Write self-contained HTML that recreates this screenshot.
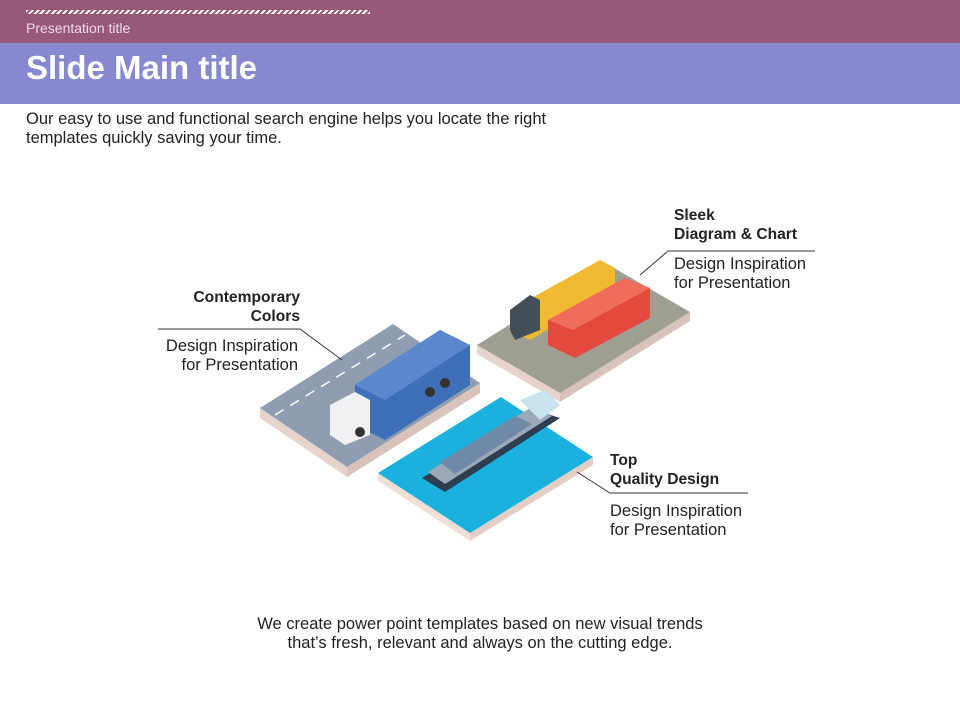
<!DOCTYPE html>
<html><head><meta charset="utf-8"><style>
body{margin:0;width:960px;height:720px;position:relative;background:#fff;font-family:"Liberation Sans",sans-serif;overflow:hidden}
.t{position:absolute;color:#222;font-size:16.5px;line-height:19px;white-space:nowrap}
.b{font-weight:bold;font-size:15.6px}
</style></head><body>
<div style="position:absolute;left:0;top:0;width:960px;height:43px;background:#985877"></div>
<div style="position:absolute;left:26px;top:10px;width:344px;height:4px;background:repeating-linear-gradient(135deg,#fff 0 2px,transparent 2px 4px)"></div>
<div style="position:absolute;left:26px;top:20px;color:#eedbe5;font-size:14px">Presentation title</div>
<div style="position:absolute;left:0;top:43px;width:960px;height:61px;background:#8689d0"></div>
<div style="position:absolute;left:26px;top:49px;color:#fff;font-size:33px;font-weight:bold">Slide Main title</div>
<div class="t" style="left:26px;top:110px">Our easy to use and functional search engine helps you locate the right<br>templates quickly saving your time.</div>

<svg width="960" height="720" style="position:absolute;left:0;top:0">
<!-- road tile -->
<polygon points="260,408 347,467 347,477 260,418" fill="#e6d4cc"/>
<polygon points="347,467 480,383 480,393 347,477" fill="#d8c2ba"/>
<polygon points="260,408 393,324 480,383 347,467" fill="#8f9db3"/>
<line x1="275" y1="415" x2="405" y2="335" stroke="#fff" stroke-dasharray="10,8" stroke-width="1.5"/>
<polygon points="330,420 355,436 470,365 445,349" fill="#a9b3c3"/>
<polygon points="355,385 440,330 470,345 470,385 385,440 355,425" fill="#3f6fb8"/>
<polygon points="355,385 440,330 470,345 385,400" fill="#5b88cc"/>
<polygon points="330,405 355,392 370,400 370,435 345,445 330,435" fill="#eef0f2"/>
<circle cx="360" cy="432" r="5" fill="#333"/><circle cx="430" cy="392" r="5" fill="#333"/><circle cx="445" cy="383" r="5" fill="#333"/>
<!-- train tile -->
<polygon points="477,345 560,393 560,402 477,354" fill="#e6d4cc"/>
<polygon points="560,393 690,312 690,321 560,402" fill="#d8c2ba"/>
<polygon points="477,345 607,264 690,312 560,393" fill="#9e9f92"/>
<polygon points="510,310 600,260 615,268 615,290 530,340 510,330" fill="#f1b931"/>
<polygon points="510,310 530,295 540,300 540,330 515,340 510,330" fill="#444e58"/>
<polygon points="548,320 625,278 650,288 650,318 575,358 548,345" fill="#e4493d"/>
<polygon points="548,320 625,278 650,288 573,330" fill="#f06c5c"/>
<!-- water tile -->
<polygon points="378,473 470,533 470,541 378,481" fill="#f0dfd6"/>
<polygon points="470,533 593,457 593,465 470,541" fill="#e2cec5"/>
<polygon points="378,473 501,397 593,457 470,533" fill="#1bb1de"/>
<polygon points="422,478 535,410 560,418 445,492" fill="#2c3e50"/>
<polygon points="428,472 530,408 552,416 445,484" fill="#9aa8b8"/>
<polygon points="440,462 515,416 532,424 455,474" fill="#6e8aa8"/>
<polygon points="520,400 545,390 560,405 540,420" fill="#c6e3ee"/>
<!-- connectors -->
<g stroke="#333" stroke-width="1" fill="none">
<polyline points="158,329 300,329 342,360"/>
<polyline points="815,251 668,251 640,275"/>
<polyline points="748,493 610,493 577,472"/>
</g>
</svg>

<div class="t b" style="left:100px;top:288px;width:200px;text-align:right">Contemporary<br>Colors</div>
<div class="t" style="left:98px;top:337px;width:200px;text-align:right">Design Inspiration<br>for Presentation</div>
<div class="t b" style="left:674px;top:206px">Sleek<br>Diagram &amp; Chart</div>
<div class="t" style="left:674px;top:255px">Design Inspiration<br>for Presentation</div>
<div class="t b" style="left:610px;top:451px">Top<br>Quality Design</div>
<div class="t" style="left:610px;top:502px">Design Inspiration<br>for Presentation</div>
<div class="t" style="left:180px;top:615px;width:600px;text-align:center">We create power point templates based on new visual trends<br>that’s fresh, relevant and always on the cutting edge.</div>
</body></html>
